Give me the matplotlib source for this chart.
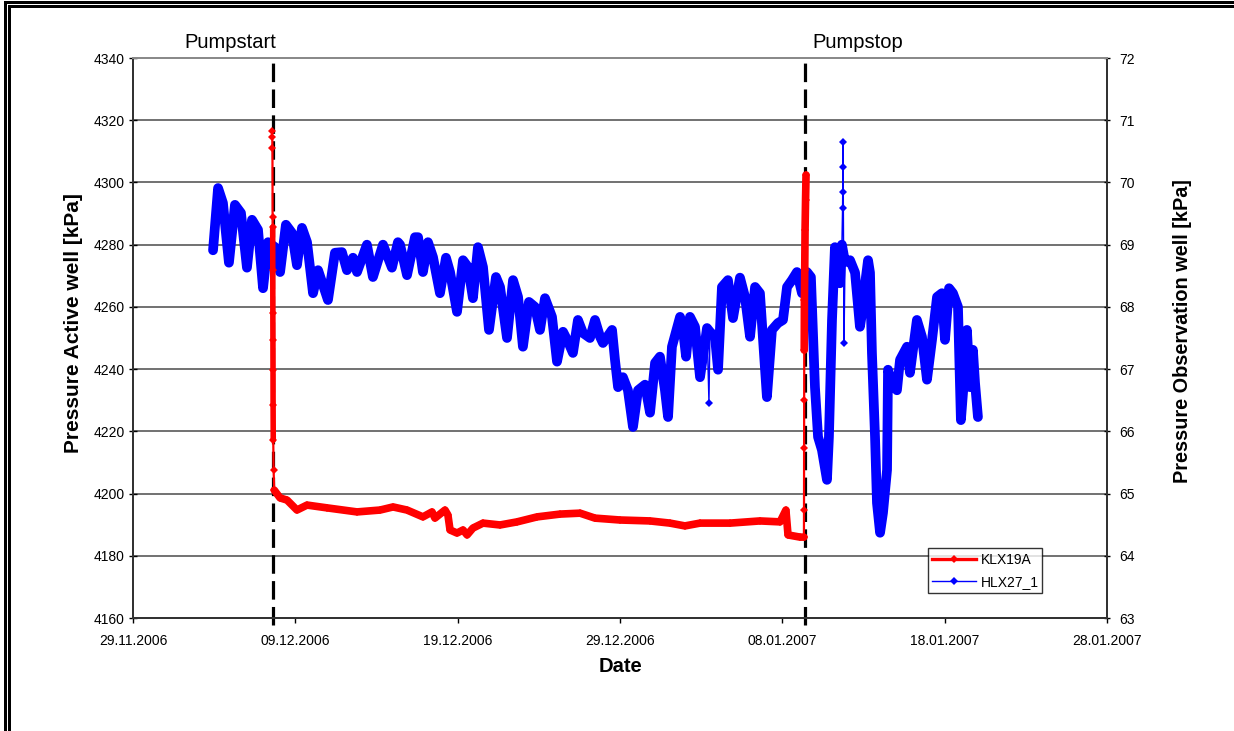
import datetime as dt
import numpy as np
import matplotlib
matplotlib.use("Agg")
import matplotlib.pyplot as plt
import matplotlib.dates as mdates
from matplotlib.lines import Line2D

plt.rcParams['font.family'] = ['Liberation Sans', 'DejaVu Sans']

# ---- data -------------------------------------------------------------
t0 = dt.datetime(2006, 11, 29)

# KLX19A, active well pressure [kPa]; time in days after 29.11.2006 00:00
red_days = [8.56, 8.58, 8.59, 8.60, 8.605, 8.61, 8.615, 8.62, 8.625, 8.63,
            8.64, 8.66, 8.70, 9.06, 9.49, 10.10, 10.72, 11.95, 13.80, 15.22,
            16.02, 16.88, 17.86, 18.42, 18.60, 19.22, 19.40, 19.53, 19.96,
            20.33, 20.58, 20.94, 21.56, 22.61, 23.66, 24.89, 26.30, 27.54,
            28.46, 30.00, 31.85, 33.08, 34.00, 34.93, 36.78, 38.62, 39.86,
            40.22, 40.35, 41.09, 41.33, 41.335, 41.34, 41.345, 41.35, 41.36,
            41.38, 41.40, 41.43, 41.46]
red_kpa = [4316.5, 4314.6, 4311.1, 4288.9, 4285.7, 4271.9, 4258.0, 4249.4,
           4239.7, 4228.5, 4217.2, 4207.6, 4201.1, 4198.6, 4197.9, 4194.7,
           4196.3, 4195.4, 4194.1, 4194.7, 4195.7, 4194.7, 4192.5, 4194.1,
           4192.1, 4194.7, 4193.1, 4188.3, 4187.3, 4188.3, 4186.7, 4188.9,
           4190.5, 4189.9, 4190.9, 4192.5, 4193.4, 4193.7, 4192.1, 4191.5,
           4191.2, 4190.5, 4189.6, 4190.5, 4190.5, 4191.2, 4190.9, 4194.7,
           4186.7, 4186.0, 4186.0, 4194.7, 4214.6, 4230.1, 4246.1, 4262.2,
           4271.9, 4284.7, 4294.3, 4302.4]

# HLX27_1, observation well pressure [kPa]
blue_days = [4.93, 5.24, 5.54, 5.91, 6.28, 6.65, 7.02, 7.33, 7.70, 8.01,
             8.32, 8.75, 9.06, 9.42, 9.79, 10.10, 10.41, 10.72, 11.09, 11.40,
             12.01, 12.44, 12.87, 13.18, 13.55, 13.80, 14.41, 14.78, 15.40,
             15.95, 16.32, 16.45, 16.88, 17.37, 17.56, 17.86, 18.17, 18.48,
             18.91, 19.28, 19.53, 19.96, 20.33, 20.64, 20.94, 21.25, 21.56,
             21.93, 22.36, 22.61, 23.04, 23.41, 23.72, 24.02, 24.39, 24.76,
             25.07, 25.38, 25.81, 26.12, 26.49, 26.80, 27.10, 27.41, 27.72,
             28.15, 28.46, 28.77, 28.95, 29.51, 29.69, 29.88, 30.18, 30.49,
             30.80, 31.11, 31.54, 31.85, 32.16, 32.46, 32.77, 32.96, 33.20,
             33.70, 33.88, 34.07, 34.31, 34.62, 34.93, 35.36, 35.48, 35.54,
             35.85, 36.04, 36.28, 36.65, 36.96, 37.39, 37.70, 38.01, 38.32,
             38.62, 39.05, 39.36, 39.73, 40.04, 40.29, 40.59, 40.90, 41.21,
             41.52, 41.76, 42.01, 42.20, 42.44, 42.75, 42.87, 43.06, 43.24,
             43.55, 43.67, 43.71, 43.72, 43.73, 43.74, 43.80, 43.86, 44.17,
             44.48, 44.78, 44.97, 45.15, 45.28, 45.40, 45.52, 45.71, 45.83,
             46.02, 46.20, 46.45, 46.51, 46.75, 47.06, 47.25, 47.68, 47.86,
             48.29, 48.60, 48.91, 49.22, 49.53, 49.83, 50.02, 50.27, 50.51,
             50.82, 51.00, 51.13, 51.37, 51.56, 51.74, 51.87, 52.05]
blue_kpa = [68.91, 69.91, 69.67, 68.71, 69.64, 69.51, 68.63, 69.40, 69.24,
            68.30, 69.04, 68.96, 68.56, 69.32, 69.19, 68.67, 69.27, 69.04,
            68.22, 68.59, 68.11, 68.87, 68.88, 68.59, 68.79, 68.56, 69.00,
            68.48, 69.00, 68.63, 69.04, 69.00, 68.51, 69.12, 69.12, 68.56,
            69.04, 68.80, 68.22, 68.79, 68.56, 67.92, 68.75, 68.64, 68.14,
            68.96, 68.64, 67.63, 68.48, 68.32, 67.50, 68.43, 68.16, 67.36,
            68.08, 68.00, 67.63, 68.14, 67.84, 67.12, 67.60, 67.44, 67.26,
            67.79, 67.58, 67.50, 67.79, 67.52, 67.42, 67.63, 67.15, 66.71,
            66.87, 66.66, 66.07, 66.66, 66.75, 66.30, 67.10, 67.20, 66.66,
            66.23, 67.36, 67.84, 67.63, 67.20, 67.84, 67.68, 66.87, 67.66,
            66.46, 67.60, 67.52, 66.99, 68.32, 68.43, 67.82, 68.47, 68.16,
            67.52, 68.32, 68.22, 66.55, 67.63, 67.74, 67.79, 68.32, 68.43,
            68.56, 68.22, 68.56, 68.48, 66.71, 65.91, 65.70, 65.22, 65.91,
            67.79, 68.96, 68.38, 69.00, 69.59, 69.85, 70.25, 70.65, 67.42,
            68.72, 68.75, 68.55, 67.68, 68.00, 68.48, 68.75, 68.55, 67.26,
            65.91, 64.85, 64.37, 64.69, 65.38, 66.99, 66.78, 66.66, 67.15,
            67.36, 66.94, 67.79, 67.52, 66.83, 67.47, 68.16, 68.22, 67.47,
            68.30, 68.22, 68.00, 66.18, 66.62, 67.63, 66.71, 67.31, 66.78,
            66.23]
# single-reading outliers in the HLX27_1 record (indices into the lists)
blue_outliers = [90, 121, 122, 123, 124, 125]

pump_start = dt.datetime(2006, 12, 7, 15, 0)
pump_stop = dt.datetime(2007, 1, 9, 9, 30)

x_ticks = [dt.datetime(2006, 11, 29), dt.datetime(2006, 12, 9),
           dt.datetime(2006, 12, 19), dt.datetime(2006, 12, 29),
           dt.datetime(2007, 1, 8), dt.datetime(2007, 1, 18),
           dt.datetime(2007, 1, 28)]
left_ticks = list(range(4160, 4341, 20))
right_ticks = list(range(63, 73))

# ---- figure -----------------------------------------------------------
W, H = 1234, 731
fig = plt.figure(figsize=(W / 100, H / 100), dpi=100)
fig.patch.set_facecolor('white')

# double frame along the top and left edges (pixel coordinates)
for (xs, ys, lw) in [((4.5, 4.5, W), (H, 1.5, 1.5), 3.0),
                     ((8.7, 8.7, W), (H, 5.8, 5.8), 3.0)]:
    fig.add_artist(Line2D([x / W for x in xs], [1 - y / H for y in ys],
                          transform=fig.transFigure, color='black', lw=lw * 0.72,
                          solid_joinstyle='miter', solid_capstyle='butt'))

L, R, T, B = 133, 1107, 58, 618
ax = fig.add_axes([L / W, 1 - B / H, (R - L) / W, (B - T) / H])
ax2 = ax.twinx()
ax.set_zorder(ax2.get_zorder() + 1)
ax.patch.set_visible(False)

red_t = [t0 + dt.timedelta(days=d) for d in red_days]
blue_t = [t0 + dt.timedelta(days=d) for d in blue_days]

# grid (drawn on the lower axes so the data sits above it)
for v in right_ticks[1:-1]:
    ax2.axhline(v, color='#4a4a4a', lw=1.1, zorder=1)

# pump start / stop markers
for when in (pump_start, pump_stop):
    ax2.plot([when, when], [-0.013, 1.0], transform=ax2.get_xaxis_transform(),
             color='black', lw=2.3, ls=(0, (5.8, 2.3)), clip_on=False, zorder=1.5)

# observation well: dense readings form a band, outliers shown as thin spikes
keep = [i for i in range(len(blue_t)) if i not in blue_outliers]
ax2.plot([blue_t[i] for i in keep], [blue_kpa[i] for i in keep],
         color='#0000ff', lw=7.0, solid_joinstyle='round', solid_capstyle='round',
         zorder=2)
ax2.plot(blue_t, blue_kpa, color='#0000ff', lw=1.0, marker='D', ms=4.5,
         markeredgewidth=0, zorder=2.1)

# active well: dense part as a band, fast transitions as thin line + markers
ax.plot(red_t[12:51], red_kpa[12:51], color='#ff0000', lw=5.5,
        solid_joinstyle='round', solid_capstyle='round', zorder=3)
ax.plot(red_t[4:11], red_kpa[4:11], color='#ff0000', lw=4.0,
        solid_capstyle='round', zorder=3)
ax.plot(red_t[54:], red_kpa[54:], color='#ff0000', lw=5.5,
        solid_joinstyle='round', solid_capstyle='round', zorder=3)
ax.plot(red_t, red_kpa, color='#ff0000', lw=1.6, marker='D', ms=4.5,
        markeredgewidth=0, zorder=3.1)

# axes ranges and ticks
xmin, xmax = x_ticks[0], x_ticks[-1]
ax.set_xlim(xmin, xmax)
ax.set_ylim(left_ticks[0], left_ticks[-1])
ax2.set_ylim(right_ticks[0], right_ticks[-1])
ax.set_xticks(x_ticks)
ax.xaxis.set_major_formatter(mdates.DateFormatter('%d.%m.%Y'))
ax.set_yticks(left_ticks)
ax2.set_yticks(right_ticks)

ax.tick_params(axis='x', direction='out', length=3.5, width=1, pad=8,
               labelsize=10, colors='black')
ax.tick_params(axis='y', direction='inout', length=6, width=1, pad=3,
               labelsize=10)
ax2.tick_params(axis='y', direction='inout', length=5, width=1, pad=6,
                labelsize=10)

for a in (ax, ax2):
    for side in ('left', 'right', 'bottom'):
        a.spines[side].set_color('#333333')
        a.spines[side].set_linewidth(1.4)
    a.spines['top'].set_color('#8a8a8a')
    a.spines['top'].set_linewidth(1.4)

ax.set_xlabel('Date', fontsize=14.5, fontweight='bold')
ax.xaxis.set_label_coords(0.5, -0.069)
ax.set_ylabel('Pressure Active well [kPa]', fontsize=15, fontweight='bold')
ax.yaxis.set_label_coords(-0.0515, 0.527)
ax2.set_ylabel('Pressure Observation well [kPa]', fontsize=14.3, fontweight='bold')
ax2.yaxis.set_label_coords(1.0675, 0.513)

ax.annotate('Pumpstart', xy=(pump_start, 1), xycoords=('data', 'axes fraction'),
            xytext=(-31, 11.5), textcoords='offset points',
            ha='center', va='center', fontsize=14.5)
ax.annotate('Pumpstop', xy=(pump_stop, 1), xycoords=('data', 'axes fraction'),
            xytext=(38, 11.5), textcoords='offset points',
            ha='center', va='center', fontsize=14.5)

handles = [Line2D([], [], color='#ff0000', lw=2.4, marker='D', ms=4.5, markeredgewidth=0),
           Line2D([], [], color='#0000ff', lw=1.0, marker='D', ms=4.5, markeredgewidth=0)]
leg = ax.legend(handles, ['KLX19A', 'HLX27_1'], loc='lower left',
                bbox_to_anchor=(0.816, 0.0446, 0.117, 0.082), mode='expand',
                fontsize=10, frameon=True, fancybox=False, shadow=False,
                handlelength=3.2, handletextpad=0.3, labelspacing=0.6,
                borderpad=0.3, borderaxespad=0)
leg.get_frame().set_edgecolor('black')
leg.get_frame().set_linewidth(1.0)

fig.savefig('out.png', dpi=100)
